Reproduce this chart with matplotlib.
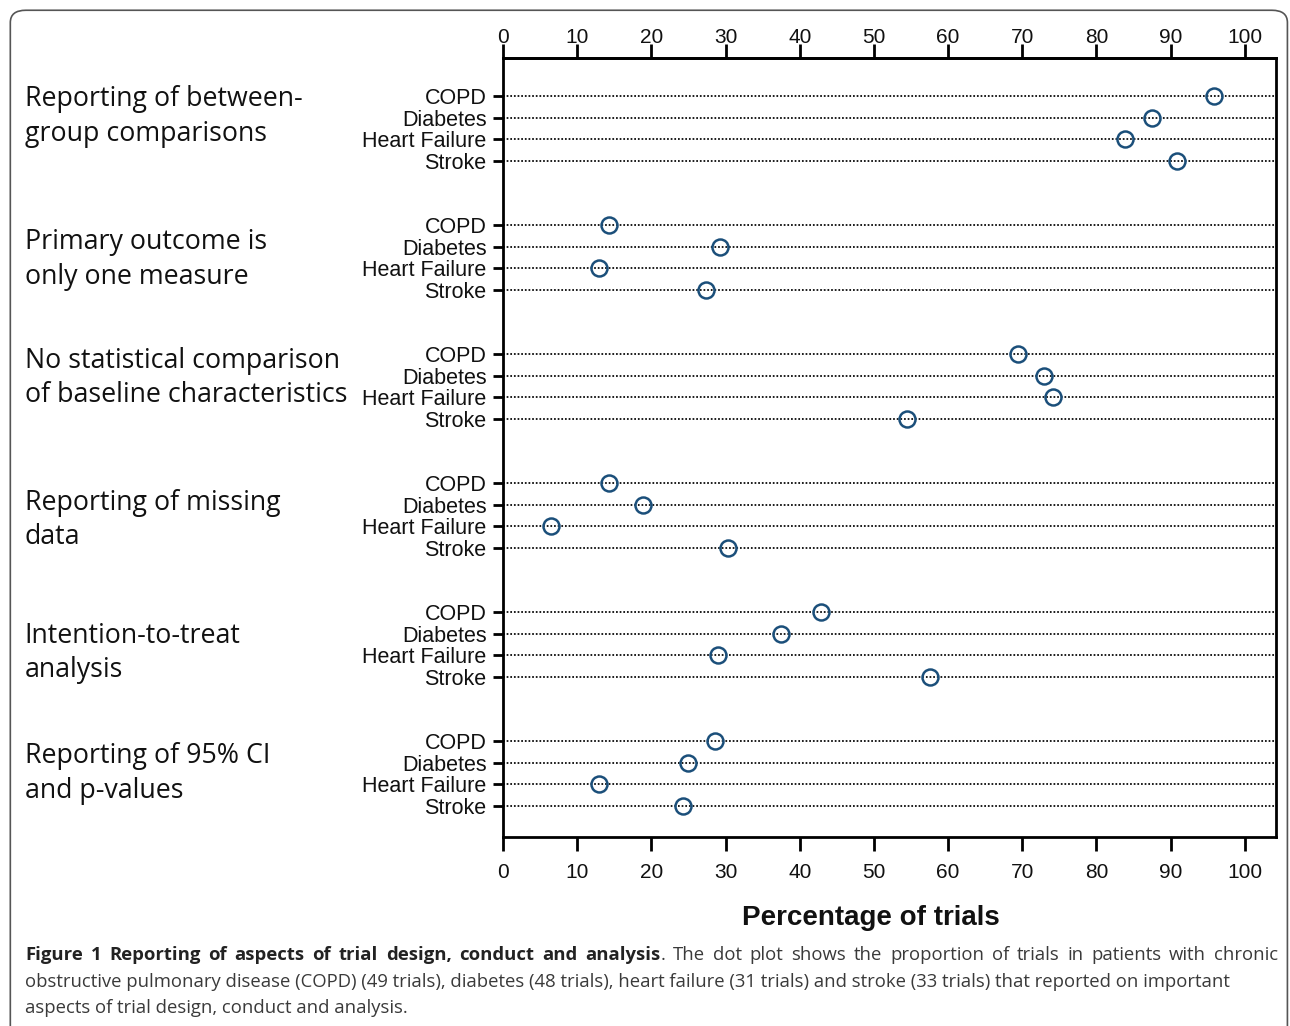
import numpy as np
import matplotlib.pyplot as plt
from matplotlib.patches import FancyBboxPatch
from matplotlib.transforms import blended_transform_factory

# data
groups = ['Reporting of between-\ngroup comparisons',
          'Primary outcome is\nonly one measure',
          'No statistical comparison\nof baseline characteristics',
          'Reporting of missing\ndata',
          'Intention-to-treat\nanalysis',
          'Reporting of 95% CI\nand p-values']
diseases = ['COPD', 'Diabetes', 'Heart Failure', 'Stroke']
copd = [95.9, 14.3, 69.4, 14.3, 42.9, 28.6]
diabetes = [87.5, 29.2, 72.9, 18.8, 37.5, 25.0]
heart_failure = [83.9, 12.9, 74.2, 6.5, 29.0, 12.9]
stroke = [90.9, 27.3, 54.5, 30.3, 57.6, 24.2]
xticks = [0, 10, 20, 30, 40, 50, 60, 70, 80, 90, 100]

# layout
label_offset = [0.95, 1.6, 1.1, 1.7, 1.9, 1.5]
group_step = 6

fig = plt.figure(figsize=(12.9, 10.26), dpi=100)
ax = fig.add_axes([0.390, 0.1842, 0.599, 0.7593])

values = np.array([copd, diabetes, heart_failure, stroke]).T
ypos = []
ylabels = []
for g in range(len(groups)):
    for r, d in enumerate(diseases):
        y = g * group_step + r
        ypos.append(y)
        ylabels.append(d)
        ax.axhline(y, color='black', linestyle=(0, (1, 1.1)), linewidth=1.25, zorder=1)
        ax.plot(values[g, r], y, 'o', ms=11.5, mfc='none', mec='#1b4f7a', mew=1.8, zorder=3)

ax.set_xlim(0, 104.2)
ax.set_ylim(ypos[-1] + 1.45, -1.77)
ax.set_yticks(ypos)
ax.set_yticklabels(ylabels, fontsize=15.5, family='Liberation Sans', color='#111111')
ax.tick_params(axis='y', length=7, width=2, pad=5)
ax.set_xticks(xticks)
ax.tick_params(axis='x', length=10, width=2, labelsize=15, pad=9, labelcolor='#111111')
for lab in ax.get_xticklabels():
    lab.set_family('Liberation Sans')
for s in ax.spines.values():
    s.set_linewidth(2)

top = ax.secondary_xaxis('top')
top.set_xticks(xticks)
top.tick_params(length=10, width=2, labelsize=15, pad=-2, labelcolor='#111111')
for lab in top.get_xticklabels():
    lab.set_family('Liberation Sans')
top.spines['top'].set_linewidth(2)

ax.set_xlabel('Percentage of trials', fontsize=20, fontweight='bold',
              family='Liberation Sans', color='#111111')
ax.xaxis.set_label_coords((871 - 503) / (1276 - 503), -0.087)

tr = blended_transform_factory(fig.transFigure, ax.transData)
for g, name in enumerate(groups):
    ax.text(0.019, g * group_step + label_offset[g], name, transform=tr,
            fontsize=19.3, family='Open Sans', va='center', ha='left',
            linespacing=1.3, color='#111111')

# frame
frame = FancyBboxPatch((0.008, -0.05), 0.99, 1.04, transform=fig.transFigure,
                       boxstyle='round,pad=0,rounding_size=0.012',
                       fill=False, edgecolor='#555555', linewidth=1.2)
fig.patches.append(frame)

# caption
cap_bold = 'Figure 1 Reporting of aspects of trial design, conduct and analysis'
cap_rest = '. The dot plot shows the proportion of trials in patients with chronic'
cap_line2 = ('obstructive pulmonary disease (COPD) (49 trials), diabetes (48 trials), '
             'heart failure (31 trials) and stroke (33 trials) that reported on important')
cap_line3 = 'aspects of trial design, conduct and analysis.'
fs = 13.3
x0, x1 = 25, 1278
W = fig.bbox.width
renderer = fig.canvas.get_renderer()

# first line is justified: bold words, then regular words
tokens = [(w, 'bold') for w in cap_bold.split(' ')]
tokens += [(w, 'normal') for w in cap_rest.split(' ')]
widths = []
for w, wt in tokens:
    t = fig.text(0, 0, w, fontsize=fs, fontweight=wt, family='Open Sans')
    widths.append(t.get_window_extent(renderer).width)
    t.remove()
ngaps = len(tokens) - 2  # the '.' sticks to the bold word
gap = (x1 - x0 - sum(widths)) / ngaps
x = x0
for i, ((w, wt), wd) in enumerate(zip(tokens, widths)):
    fig.text(x / W, 1 - 955 / 1026, w, fontsize=fs, fontweight=wt,
             family='Open Sans', va='center',
             color='#222222' if wt == 'bold' else '#3a3a3a')
    x += wd
    if i + 1 < len(tokens) and tokens[i + 1][0] != '.':
        x += gap

fig.text(x0 / W, 1 - 982 / 1026, cap_line2, fontsize=fs, family='Open Sans',
         va='center', color='#3a3a3a')
fig.text(x0 / W, 1 - 1008 / 1026, cap_line3, fontsize=fs, family='Open Sans',
         va='center', color='#3a3a3a')

fig.savefig('out.png', dpi=100)
